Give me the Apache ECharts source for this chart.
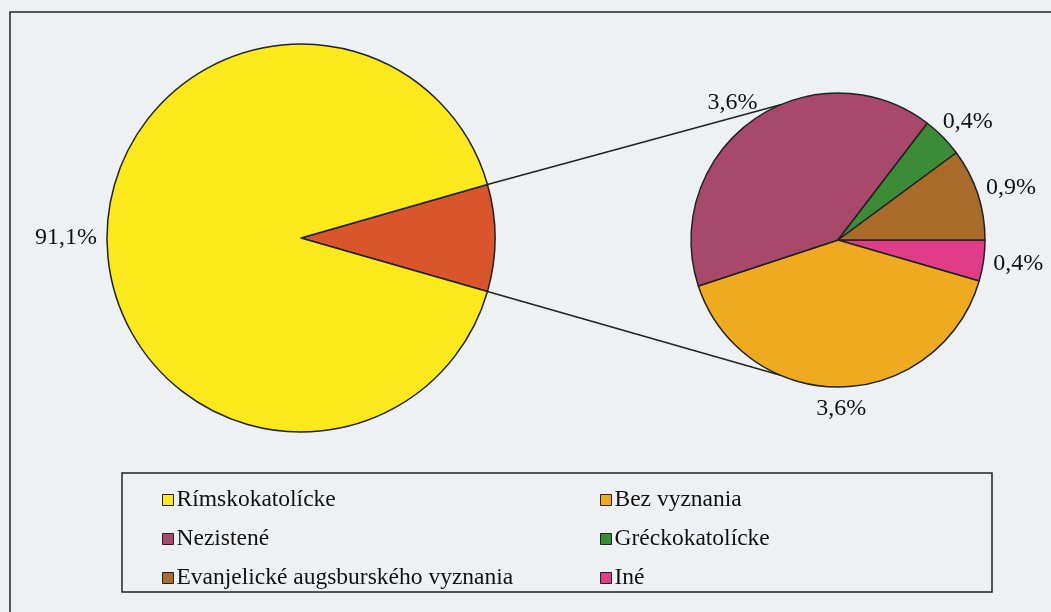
<!DOCTYPE html>
<html>
<head>
<meta charset="utf-8">
<script src="https://cdn.jsdelivr.net/npm/echarts@6/dist/echarts.min.js"></script>
<style>
  html, body { margin: 0; padding: 0; background: #eef1f4; }
  #chart { width: 1051px; height: 612px; }
</style>
</head>
<body>
<div id="chart"></div>
<script>
// hlavny kolac
const mainName = 'Rímskokatolícke';
const mainValue = 91.1;
const otherName = 'Ostatné';
// vedlajsi kolac, od 3. hodiny v smere hodinovych ruciciek
const subNames = ['Iné', 'Bez vyznania', 'Nezistené', 'Gréckokatolícke', 'Evanjelické augsburského vyznania'];
const subValues = [0.4, 3.6, 3.6, 0.4, 0.9];
// legenda v dvoch stlpcoch
const legendLeft = ['Rímskokatolícke', 'Nezistené', 'Evanjelické augsburského vyznania'];
const legendRight = ['Bez vyznania', 'Gréckokatolícke', 'Iné'];

const colors = {
  'Rímskokatolícke': '#fbe91c',
  'Ostatné': '#d9552b',
  'Bez vyznania': '#efab20',
  'Nezistené': '#a6496b',
  'Gréckokatolícke': '#3b8b37',
  'Evanjelické augsburského vyznania': '#a86b29',
  'Iné': '#e03d88'
};

const font = 'Liberation Serif';
const c1 = [301, 238], r1 = 194;
const c2 = [838, 240], r2 = 147;

const otherValue = subValues.reduce((a, b) => a + b, 0);
const start1 = otherValue / (otherValue + mainValue) * 360 / 2;
const start2 = 0;

function fmt(v) { return v.toFixed(1).replace('.', ',') + '%'; }

function midAngles(values, start) {
  const total = values.reduce((a, b) => a + b, 0);
  let acc = 0;
  return values.map(v => {
    const a = start - (acc + v / 2) / total * 360;
    acc += v;
    return a;
  });
}

function placeLabel(center, r, gap, angles) {
  return function (p) {
    const a = angles[p.dataIndex] * Math.PI / 180;
    const c = Math.cos(a), s = Math.sin(a);
    const w = p.labelRect.width, h = p.labelRect.height;
    return {
      x: center[0] + (r + gap + w / 2) * c,
      y: center[1] - (r + gap + h / 2) * s,
      align: 'center',
      verticalAlign: 'middle'
    };
  };
}

const mainData = [
  { name: otherName, value: otherValue, label: { show: false } },
  { name: mainName, value: mainValue }
];
const subData = subNames.map((n, i) => ({ name: n, value: subValues[i] }));

// spojnice medzi kolacmi
const edgeA = start1 * Math.PI / 180;
const tanA = 113 * Math.PI / 180;
const lines = [1, -1].map(sgn => ({
  type: 'line',
  z: 1,
  shape: {
    x1: c1[0] + r1 * Math.cos(edgeA), y1: c1[1] - sgn * r1 * Math.sin(edgeA),
    x2: c2[0] + r2 * Math.cos(tanA), y2: c2[1] - sgn * r2 * Math.sin(tanA)
  },
  style: { stroke: '#222', lineWidth: 1.5 }
}));

const myChart = echarts.init(document.getElementById('chart'));
const legendBase = {
  orient: 'vertical',
  icon: 'rect',
  itemWidth: 11,
  itemHeight: 11,
  itemGap: 15,
  top: 483,
  selectedMode: false,
  itemStyle: { borderColor: '#222', borderWidth: 1 },
  textStyle: { fontFamily: font, fontSize: 23.5, color: '#111', padding: [0, 0, 0, -2] }
};

const option = {
  backgroundColor: '#eef1f4',
  animation: false,
  color: Object.values(colors),
  legend: [
    Object.assign({}, legendBase, { left: 157, data: legendLeft }),
    Object.assign({}, legendBase, { left: 595, data: legendRight })
  ],
  graphic: [
    { type: 'rect', z: 0, shape: { x: 10, y: 12, width: 1100, height: 700 },
      style: { fill: 'none', stroke: '#222', lineWidth: 1.5 } },
    { type: 'rect', z: 0, shape: { x: 122, y: 473, width: 870, height: 119 },
      style: { fill: 'none', stroke: '#222', lineWidth: 1.5 } }
  ].concat(lines),
  series: [
    {
      type: 'pie',
      center: c1,
      radius: r1,
      startAngle: start1,
      clockwise: true,
      avoidLabelOverlap: false,
      silent: true,
      itemStyle: {
        color: p => colors[p.name],
        borderColor: '#222',
        borderWidth: 1.5
      },
      label: {
        position: 'outside',
        formatter: p => fmt(p.value),
        fontFamily: font,
        fontSize: 24,
        color: '#111'
      },
      labelLine: { show: false },
      labelLayout: placeLabel(c1, r1, 10, midAngles(mainData.map(d => d.value), start1)),
      data: mainData
    },
    {
      type: 'pie',
      center: c2,
      radius: r2,
      startAngle: start2,
      clockwise: true,
      avoidLabelOverlap: false,
      silent: true,
      itemStyle: {
        color: p => colors[p.name],
        borderColor: '#222',
        borderWidth: 1.5
      },
      label: {
        position: 'outside',
        formatter: p => fmt(p.value),
        fontFamily: font,
        fontSize: 24,
        color: '#111'
      },
      labelLine: { show: false },
      labelLayout: placeLabel(c2, r2, 10, midAngles(subValues, start2)),
      data: subData
    }
  ]
};
myChart.setOption(option);
</script>
</body>
</html>
